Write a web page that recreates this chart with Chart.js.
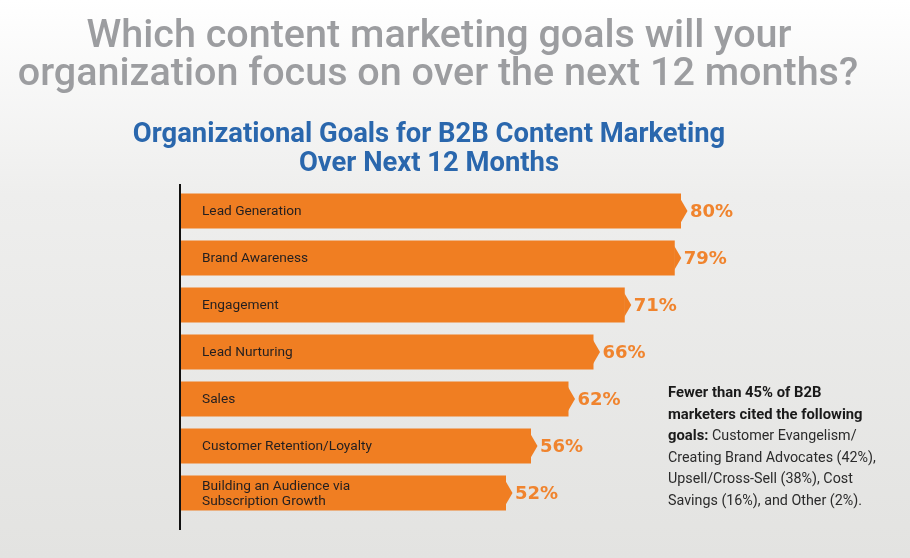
<!DOCTYPE html>
<html>
<head>
<meta charset="utf-8">
<script src="https://cdn.jsdelivr.net/npm/chart.js@4/dist/chart.umd.min.js"></script>
<style>
  html, body { margin: 0; padding: 0; }
  body { width: 910px; height: 558px; overflow: hidden; }
  #wrap { position: relative; width: 910px; height: 558px; }
</style>
</head>
<body>
<div id="wrap"><canvas id="goalsChart" width="910" height="558"></canvas></div>
<script>
// DATA
const categories = [
  'Lead Generation',
  'Brand Awareness',
  'Engagement',
  'Lead Nurturing',
  'Sales',
  'Customer Retention/Loyalty',
  ['Building an Audience via', 'Subscription Growth']
];
const values = [80, 79, 71, 66, 62, 56, 52];

const titleLines = ['Which content marketing goals will your', 'organization focus on over the next 12 months?'];
const subtitleLines = ['Organizational Goals for B2B Content Marketing', 'Over Next 12 Months'];
// note: [boldPart, regularPart] per line
const noteLines = [
  ['Fewer than 45% of B2B', ''],
  ['marketers cited the following', ''],
  ['goals:', ' Customer Evangelism/'],
  ['', 'Creating Brand Advocates (42%),'],
  ['', 'Upsell/Cross-Sell (38%), Cost'],
  ['', 'Savings (16%), and Other (2%).']
];

const ORANGE = '#f07e22';
const ORANGE_TXT = '#f0842e';

// background gradient
const bgPlugin = {
  id: 'bgPlugin',
  beforeDraw(chart) {
    const { ctx, width, height } = chart;
    const g = ctx.createLinearGradient(0, 0, 0, height);
    g.addColorStop(0, '#ffffff');
    g.addColorStop(0.35, '#eeeeed');
    g.addColorStop(1, '#e3e3e1');
    ctx.save();
    ctx.fillStyle = g;
    ctx.fillRect(0, 0, width, height);
    ctx.restore();
  }
};

// titles, note, axis line, bar labels and pointers
const decorPlugin = {
  id: 'decorPlugin',
  afterDatasetsDraw(chart) {
    const ctx = chart.ctx;
    const area = chart.chartArea;
    ctx.save();

    // main title
    ctx.fillStyle = '#9c9da0';
    ctx.font = '500 39.5px Roboto';
    ctx.textAlign = 'center';
    ctx.textBaseline = 'alphabetic';
    ctx.fillText(titleLines[0], 439, 47);
    ctx.fillText(titleLines[1], 438, 85);

    // subtitle
    ctx.fillStyle = '#2a67ad';
    ctx.font = 'bold 27.4px Roboto';
    ctx.fillText(subtitleLines[0], 429, 142);
    ctx.fillText(subtitleLines[1], 429, 171);

    // axis line
    ctx.strokeStyle = '#111111';
    ctx.lineWidth = 2;
    ctx.beginPath();
    ctx.moveTo(area.left - 1, 184);
    ctx.lineTo(area.left - 1, 530);
    ctx.stroke();

    const meta = chart.getDatasetMeta(0);
    meta.data.forEach((bar, i) => {
      const x = bar.x, y = bar.y;
      // pointer
      ctx.fillStyle = ORANGE;
      ctx.beginPath();
      ctx.moveTo(x - 0.5, y - 12);
      ctx.lineTo(x + 6.5, y);
      ctx.lineTo(x - 0.5, y + 12);
      ctx.closePath();
      ctx.fill();
      // value
      ctx.fillStyle = ORANGE_TXT;
      ctx.font = 'bold 18px "DejaVu Sans"';
      ctx.textAlign = 'left';
      ctx.textBaseline = 'middle';
      ctx.fillText(values[i] + '%', x + 9, y + 1);
      // category label inside bar
      const lab = categories[i];
      const lines = Array.isArray(lab) ? lab : [lab];
      ctx.fillStyle = '#231f20';
      ctx.font = '13.7px Roboto';
      lines.forEach((l, j) => {
        ctx.fillText(l, bar.base + 21, y + 1 + (j - (lines.length - 1) / 2) * 15);
      });
    });

    // side note
    ctx.textAlign = 'left';
    ctx.textBaseline = 'alphabetic';
    noteLines.forEach((ln, j) => {
      const yy = 397 + j * 21.6;
      let xx = 668;
      if (ln[0]) {
        ctx.font = 'bold 14.8px Roboto';
        ctx.fillStyle = '#1a1a1a';
        ctx.fillText(ln[0], xx, yy);
        xx += ctx.measureText(ln[0]).width;
      }
      if (ln[1]) {
        ctx.font = '14.3px Roboto';
        ctx.fillStyle = '#2b2b2b';
        ctx.fillText(ln[1], xx, yy);
      }
    });
    ctx.restore();
  }
};

new Chart(document.getElementById('goalsChart'), {
  type: 'bar',
  data: {
    labels: categories,
    datasets: [{
      data: values,
      backgroundColor: ORANGE,
      borderWidth: 0,
      barPercentage: 0.745,
      categoryPercentage: 1
    }]
  },
  options: {
    indexAxis: 'y',
    responsive: false,
    animation: false,
    layout: { padding: { left: 181, right: 104, top: 187.5, bottom: 41.5 } },
    scales: {
      x: { display: false, min: 0, max: 100 },
      y: { display: false }
    },
    plugins: {
      legend: { display: false },
      title: { display: false },
      tooltip: { enabled: false }
    }
  },
  plugins: [bgPlugin, decorPlugin]
});
</script>
</body>
</html>
